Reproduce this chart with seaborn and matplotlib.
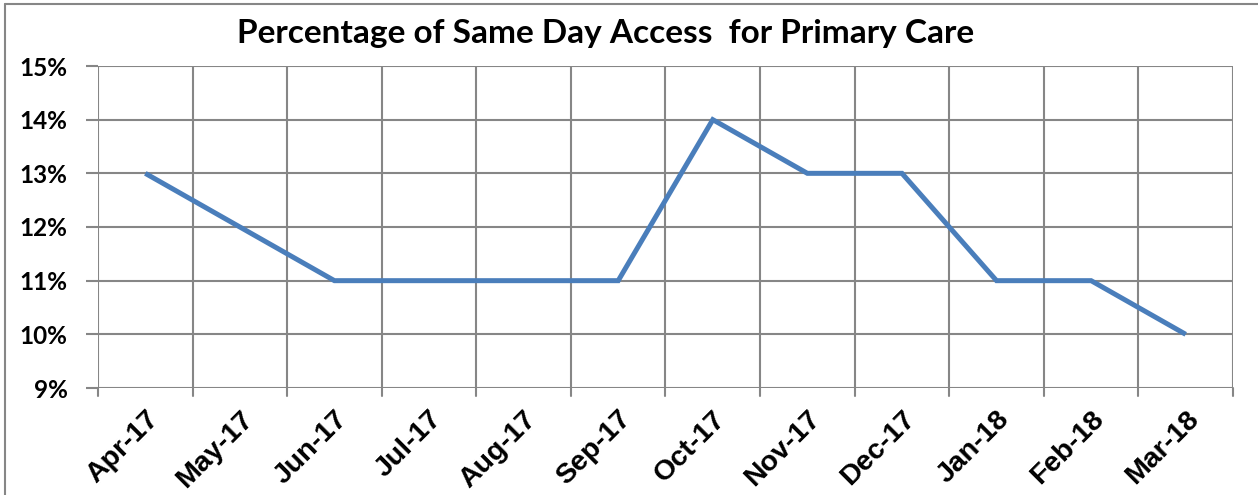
import matplotlib
matplotlib.use("Agg")
import matplotlib.pyplot as plt
from matplotlib.lines import Line2D
import seaborn as sns
import pandas as pd
import numpy as np

months = ["Apr-17", "May-17", "Jun-17", "Jul-17", "Aug-17", "Sep-17",
          "Oct-17", "Nov-17", "Dec-17", "Jan-18", "Feb-18", "Mar-18"]
pct = [13, 12, 11, 11, 11, 11, 14, 13, 13, 11, 11, 10]
yticks = [9, 10, 11, 12, 13, 14, 15]
title = "Percentage of Same Day Access  for Primary Care"

sns.set_theme(style="white")
plt.rcParams["font.family"] = ["Lato", "DejaVu Sans"]

W, H = 1258, 495
fig = plt.figure(figsize=(W / 100, H / 100), dpi=100)
ax = fig.add_axes([98 / W, 1 - 388 / H, (1233 - 98) / W, (388 - 66) / H])

df = pd.DataFrame({"pos": np.arange(len(months)), "pct": pct})
sns.lineplot(data=df, x="pos", y="pct", ax=ax, color="#4A7EBB", linewidth=3.6,
             solid_capstyle="butt", solid_joinstyle="miter", zorder=3)

n = len(months)
ax.set_xlim(-0.5, n - 0.5)
ax.set_ylim(yticks[0], yticks[-1])
ax.set_yticks(yticks)
ax.set_yticklabels([f"{v}%" for v in yticks], fontsize=17.5, fontweight="bold",
                   family=["Lato"], color="black")
ax.set_xticks(np.arange(n))
ax.set_xticklabels(months, rotation=45, ha="right", va="top",
                   rotation_mode="anchor", fontsize=20.5, fontweight="bold",
                   family=["Liberation Sans"], color="black")
ax.tick_params(axis="x", length=0, pad=13)
ax.tick_params(axis="y", length=9, width=1.5, color="#868686", pad=13, left=True)
ax.set_xlabel("")
ax.set_ylabel("")

# vertical gridlines at category boundaries
for b in np.arange(-0.5, n, 1.0):
    ax.axvline(b, color="#868686", linewidth=1.5, zorder=0)
    ax.plot([b, b], [yticks[0], yticks[0] - 0.14], color="#868686",
            linewidth=1.5, clip_on=False)
for v in yticks:
    ax.axhline(v, color="#868686", linewidth=1.5, zorder=0)
for s in ax.spines.values():
    s.set_visible(False)

fig.text(606 / W, 1 - 33 / H, title, ha="center", va="center",
         fontsize=24, fontweight="bold", family=["Lato"], color="black")

# chart-area border (left and top edges visible)
fig.add_artist(Line2D([5 / W, 5 / W], [0, 1 - 4 / H], transform=fig.transFigure,
                      color="#868686", linewidth=1.5))
fig.add_artist(Line2D([5 / W, 1], [1 - 4 / H, 1 - 4 / H], transform=fig.transFigure,
                      color="#868686", linewidth=1.5))

fig.savefig("out.png", dpi=100)
